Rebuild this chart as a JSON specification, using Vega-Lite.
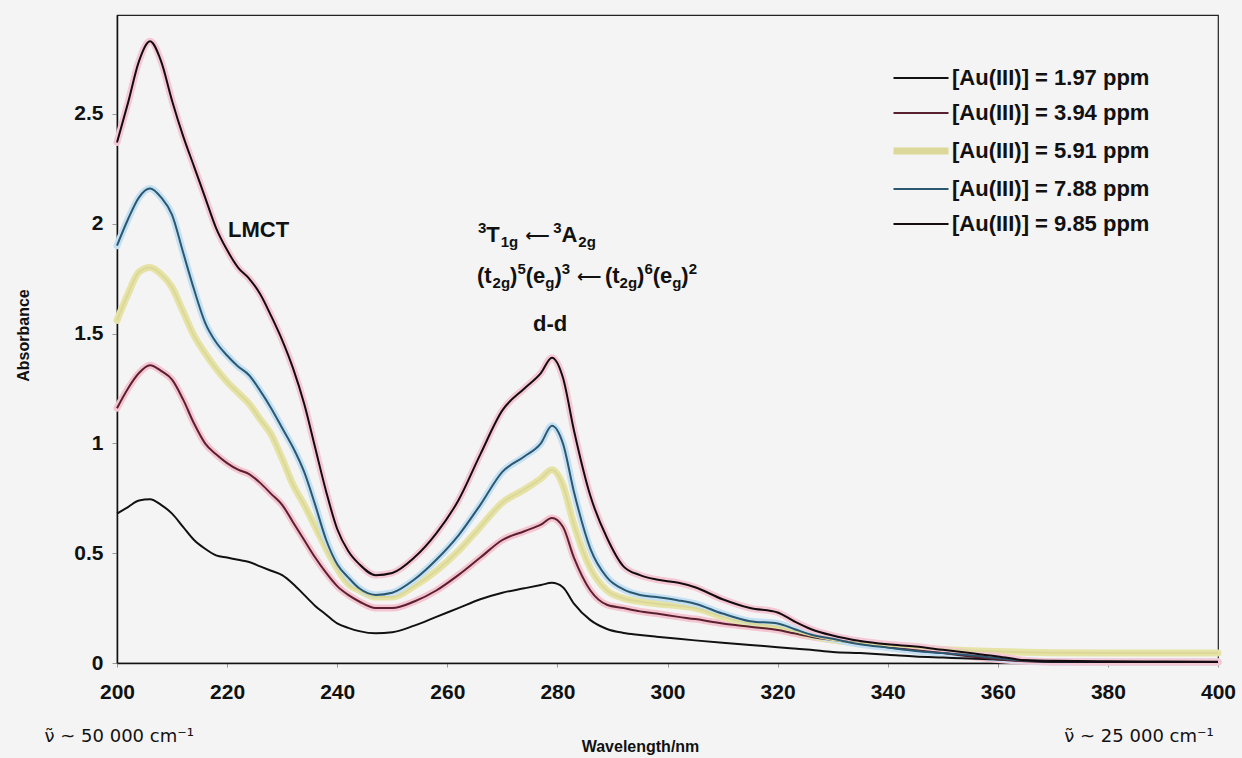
{
  "$schema": "https://vega.github.io/schema/vega-lite/v6.json",
  "width": 1101,
  "height": 648,
  "autosize": {"type": "none"},
  "padding": {"left": 117, "top": 15, "right": 24, "bottom": 95},
  "background": "#f4f4f4",
  "config": {
    "view": {"stroke": "#222", "strokeWidth": 1.2},
    "font": "Liberation Sans"
  },
  "datasets": {
    "spec": [
      {"wl":200,"A":0.68,"B":1.16,"C":1.56,"D":1.90,"E":2.37},
      {"wl":202,"A":0.71,"B":1.25,"C":1.68,"D":2.02,"E":2.55},
      {"wl":204,"A":0.74,"B":1.32,"C":1.78,"D":2.12,"E":2.74},
      {"wl":206,"A":0.745,"B":1.355,"C":1.80,"D":2.16,"E":2.83},
      {"wl":208,"A":0.72,"B":1.33,"C":1.77,"D":2.12,"E":2.74},
      {"wl":210,"A":0.68,"B":1.29,"C":1.71,"D":2.04,"E":2.56},
      {"wl":212,"A":0.62,"B":1.20,"C":1.60,"D":1.87,"E":2.40},
      {"wl":214,"A":0.56,"B":1.09,"C":1.49,"D":1.70,"E":2.26},
      {"wl":216,"A":0.52,"B":1.00,"C":1.41,"D":1.55,"E":2.12},
      {"wl":218,"A":0.49,"B":0.95,"C":1.34,"D":1.46,"E":1.98},
      {"wl":220,"A":0.48,"B":0.91,"C":1.28,"D":1.40,"E":1.88},
      {"wl":222,"A":0.47,"B":0.88,"C":1.23,"D":1.35,"E":1.80},
      {"wl":224,"A":0.46,"B":0.86,"C":1.18,"D":1.31,"E":1.75},
      {"wl":226,"A":0.44,"B":0.82,"C":1.11,"D":1.24,"E":1.68},
      {"wl":228,"A":0.42,"B":0.77,"C":1.04,"D":1.16,"E":1.58},
      {"wl":230,"A":0.40,"B":0.72,"C":0.93,"D":1.07,"E":1.47},
      {"wl":232,"A":0.36,"B":0.64,"C":0.81,"D":0.98,"E":1.34},
      {"wl":234,"A":0.31,"B":0.56,"C":0.72,"D":0.87,"E":1.18},
      {"wl":236,"A":0.26,"B":0.48,"C":0.62,"D":0.72,"E":0.98},
      {"wl":238,"A":0.22,"B":0.41,"C":0.52,"D":0.56,"E":0.78},
      {"wl":240,"A":0.18,"B":0.35,"C":0.43,"D":0.45,"E":0.61},
      {"wl":242,"A":0.16,"B":0.31,"C":0.36,"D":0.39,"E":0.51},
      {"wl":244,"A":0.145,"B":0.28,"C":0.33,"D":0.34,"E":0.45},
      {"wl":247,"A":0.135,"B":0.25,"C":0.30,"D":0.31,"E":0.40},
      {"wl":250,"A":0.14,"B":0.25,"C":0.30,"D":0.32,"E":0.41},
      {"wl":254,"A":0.17,"B":0.28,"C":0.35,"D":0.38,"E":0.48},
      {"wl":258,"A":0.21,"B":0.33,"C":0.42,"D":0.47,"E":0.59},
      {"wl":262,"A":0.25,"B":0.40,"C":0.51,"D":0.58,"E":0.74},
      {"wl":266,"A":0.29,"B":0.48,"C":0.62,"D":0.72,"E":0.95},
      {"wl":270,"A":0.32,"B":0.56,"C":0.73,"D":0.87,"E":1.15},
      {"wl":274,"A":0.34,"B":0.60,"C":0.79,"D":0.94,"E":1.25},
      {"wl":277,"A":0.355,"B":0.63,"C":0.84,"D":1.00,"E":1.32},
      {"wl":279,"A":0.365,"B":0.66,"C":0.88,"D":1.08,"E":1.39},
      {"wl":281,"A":0.345,"B":0.62,"C":0.81,"D":1.00,"E":1.30},
      {"wl":283,"A":0.27,"B":0.48,"C":0.63,"D":0.78,"E":1.06},
      {"wl":286,"A":0.195,"B":0.33,"C":0.43,"D":0.52,"E":0.76},
      {"wl":289,"A":0.155,"B":0.265,"C":0.33,"D":0.39,"E":0.57},
      {"wl":292,"A":0.137,"B":0.25,"C":0.295,"D":0.335,"E":0.44},
      {"wl":295,"A":0.128,"B":0.235,"C":0.28,"D":0.31,"E":0.40},
      {"wl":298,"A":0.12,"B":0.225,"C":0.27,"D":0.30,"E":0.38},
      {"wl":302,"A":0.11,"B":0.21,"C":0.26,"D":0.285,"E":0.365},
      {"wl":305,"A":0.103,"B":0.20,"C":0.25,"D":0.27,"E":0.345},
      {"wl":310,"A":0.092,"B":0.18,"C":0.21,"D":0.225,"E":0.29},
      {"wl":315,"A":0.082,"B":0.165,"C":0.18,"D":0.19,"E":0.25},
      {"wl":320,"A":0.072,"B":0.15,"C":0.165,"D":0.18,"E":0.23},
      {"wl":323,"A":0.066,"B":0.135,"C":0.145,"D":0.155,"E":0.19},
      {"wl":326,"A":0.06,"B":0.12,"C":0.125,"D":0.13,"E":0.155},
      {"wl":330,"A":0.05,"B":0.105,"C":0.105,"D":0.11,"E":0.125},
      {"wl":335,"A":0.045,"B":0.09,"C":0.09,"D":0.085,"E":0.10},
      {"wl":340,"A":0.038,"B":0.072,"C":0.078,"D":0.07,"E":0.085},
      {"wl":345,"A":0.03,"B":0.058,"C":0.07,"D":0.055,"E":0.075},
      {"wl":350,"A":0.025,"B":0.045,"C":0.062,"D":0.045,"E":0.06},
      {"wl":355,"A":0.02,"B":0.03,"C":0.056,"D":0.035,"E":0.045},
      {"wl":360,"A":0.016,"B":0.016,"C":0.052,"D":0.022,"E":0.03},
      {"wl":365,"A":0.012,"B":0.008,"C":0.049,"D":0.01,"E":0.012},
      {"wl":370,"A":0.01,"B":0.005,"C":0.047,"D":0.005,"E":0.006},
      {"wl":380,"A":0.008,"B":0.004,"C":0.045,"D":0.004,"E":0.004},
      {"wl":390,"A":0.007,"B":0.004,"C":0.045,"D":0.004,"E":0.004},
      {"wl":400,"A":0.006,"B":0.004,"C":0.045,"D":0.004,"E":0.004}
    ]
  },
  "layer": [
    {
      "data": {"name": "spec"},
      "transform": [{"fold": ["A","B","C","D","E"], "as": ["s","v"]}],
      "mark": {"type": "line", "interpolate": "monotone", "strokeWidth": 7, "strokeCap": "round"},
      "encoding": {
        "x": {"field": "wl", "type": "quantitative",
          "scale": {"domain": [200, 400], "nice": false},
          "axis": {"title": "Wavelength/nm", "values": [200,220,240,260,280,300,320,340,360,380,400],
            "labelFont": "Liberation Sans", "labelFontSize": 21, "labelFontWeight": "bold", "labelColor": "#111",
            "labelPadding": 14, "labelFlush": false, "labelOverlap": false,
            "tickSize": 4, "tickColor": "#999", "domainColor": "#111", "domainWidth": 1.5, "grid": false,
            "titleFont": "Liberation Sans", "titleFontSize": 16, "titleFontWeight": "bold", "titleColor": "#111",
            "titleX": 523, "titleY": 88, "titleAlign": "center", "titleBaseline": "alphabetic"}},
        "y": {"field": "v", "type": "quantitative",
          "scale": {"domain": [0, 2.95], "nice": false},
          "axis": {"title": "Absorbance", "values": [0,0.5,1,1.5,2,2.5], "labelExpr": "'' + datum.value",
            "labelFont": "Liberation Sans", "labelFontSize": 21, "labelFontWeight": "bold", "labelColor": "#111",
            "labelPadding": 9, "labelFlush": false, "labelOverlap": false,
            "tickSize": 5, "tickColor": "#999", "domainColor": "#111", "domainWidth": 1.5, "grid": false,
            "titleFont": "Liberation Sans", "titleFontSize": 16, "titleFontWeight": "bold", "titleColor": "#111",
            "titleX": -86, "titleY": 320, "titleAngle": -90, "titleAlign": "center", "titleBaseline": "bottom"}},
        "color": {"field": "s", "type": "nominal",
          "scale": {"domain": ["A","B","C","D","E"], "range": ["rgba(0,0,0,0)","#f4c4d0","#e6e3a6","#c4e0f2","#f4c8d4"]},
          "legend": null}
      }
    },
    {
      "data": {"name": "spec"},
      "transform": [{"fold": ["A","B","C","D","E"], "as": ["s","v"]}],
      "mark": {"type": "line", "interpolate": "monotone", "strokeWidth": 2},
      "encoding": {
        "x": {"field": "wl", "type": "quantitative"},
        "y": {"field": "v", "type": "quantitative"},
        "color": {"field": "s", "type": "nominal",
          "scale": {"domain": ["A","B","C","D","E"], "range": ["#111111","#5a2030","#dcd89a","#2b5870","#140c10"]},
          "legend": {"title": null, "orient": "none", "legendX": 793, "legendY": 52, "padding": 0,
            "symbolType": "stroke", "symbolSize": 3025, "symbolStrokeWidth": 2,
            "labelFont": "Liberation Sans", "labelFontSize": 22, "labelFontWeight": "bold", "labelColor": "#111",
            "labelOffset": 20, "labelLimit": 400, "rowPadding": 13,
            "labelExpr": "datum.label == 'A' ? '[Au(III)] = 1.97 ppm' : datum.label == 'B' ? '[Au(III)] = 3.94 ppm' : datum.label == 'C' ? '[Au(III)] = 5.91 ppm' : datum.label == 'D' ? '[Au(III)] = 7.88 ppm' : '[Au(III)] = 9.85 ppm'",
            "encode": {"symbols": {"update": {"strokeWidth": {"signal": "datum.value == 'C' ? 7 : 2"}}}}}
        }
      }
    },
    {
      "data": {"values": [
        {"t": "LMCT", "wl": 220.16, "v": 1.939},
        {"t": "d-d", "wl": 275.57, "v": 1.511},
        {"t": "T", "wl": 267.08, "v": 1.916},
        {"t": "A", "wl": 280.74, "v": 1.916},
        {"t": "(t", "wl": 265.40, "v": 1.730},
        {"t": ")", "wl": 271.41, "v": 1.730},
        {"t": "(e", "wl": 274.24, "v": 1.730},
        {"t": ")", "wl": 279.46, "v": 1.730},
        {"t": "(t", "wl": 288.65, "v": 1.730},
        {"t": ")", "wl": 294.48, "v": 1.730},
        {"t": "(e", "wl": 297.31, "v": 1.730},
        {"t": ")", "wl": 302.52, "v": 1.730}
      ]},
      "mark": {"type": "text", "align": "left", "baseline": "alphabetic", "font": "Liberation Sans", "fontSize": 22, "fontWeight": "bold", "color": "#111"},
      "encoding": {
        "x": {"field": "wl", "type": "quantitative"},
        "y": {"field": "v", "type": "quantitative"},
        "text": {"field": "t"}
      }
    },
    {
      "data": {"values": [
        {"t": "⟵", "wl": 274.15, "v": 1.916},
        {"t": "⟵", "wl": 283.57, "v": 1.730}
      ]},
      "mark": {"type": "text", "align": "left", "baseline": "alphabetic", "dy": -1, "font": "DejaVu Sans", "fontSize": 17, "fontWeight": "bold", "color": "#111"},
      "encoding": {
        "x": {"field": "wl", "type": "quantitative"},
        "y": {"field": "v", "type": "quantitative"},
        "text": {"field": "t"}
      }
    },
    {
      "data": {"values": [
        {"t": "1g", "wl": 269.70, "v": 1.916},
        {"t": "2g", "wl": 283.81, "v": 1.916},
        {"t": "2g", "wl": 268.23, "v": 1.730},
        {"t": "g", "wl": 277.78, "v": 1.730},
        {"t": "2g", "wl": 291.30, "v": 1.730},
        {"t": "g", "wl": 300.85, "v": 1.730}
      ]},
      "mark": {"type": "text", "align": "left", "baseline": "alphabetic", "dy": 5, "font": "Liberation Sans", "fontSize": 15, "fontWeight": "bold", "color": "#111"},
      "encoding": {
        "x": {"field": "wl", "type": "quantitative"},
        "y": {"field": "v", "type": "quantitative"},
        "text": {"field": "t"}
      }
    },
    {
      "data": {"values": [
        {"t": "3", "wl": 265.58, "v": 1.916},
        {"t": "3", "wl": 279.24, "v": 1.916},
        {"t": "5", "wl": 272.73, "v": 1.730},
        {"t": "3", "wl": 280.78, "v": 1.730},
        {"t": "6", "wl": 295.81, "v": 1.730},
        {"t": "2", "wl": 303.85, "v": 1.730}
      ]},
      "mark": {"type": "text", "align": "left", "baseline": "alphabetic", "dy": -9, "font": "Liberation Sans", "fontSize": 15, "fontWeight": "bold", "color": "#111"},
      "encoding": {
        "x": {"field": "wl", "type": "quantitative"},
        "y": {"field": "v", "type": "quantitative"},
        "text": {"field": "t"}
      }
    },
    {
      "data": {"values": [
        {"t": "ν̃ ~ 50 000 cm⁻¹", "wl": 200.4, "v": -0.36},
        {"t": "ν̃ ~ 25 000 cm⁻¹", "wl": 385.65, "v": -0.36}
      ]},
      "mark": {"type": "text", "align": "center", "baseline": "alphabetic", "font": "DejaVu Sans", "fontSize": 18, "color": "#111"},
      "encoding": {
        "x": {"field": "wl", "type": "quantitative"},
        "y": {"field": "v", "type": "quantitative"},
        "text": {"field": "t"}
      }
    }
  ],
  "resolve": {"scale": {"color": "independent"}}
}
